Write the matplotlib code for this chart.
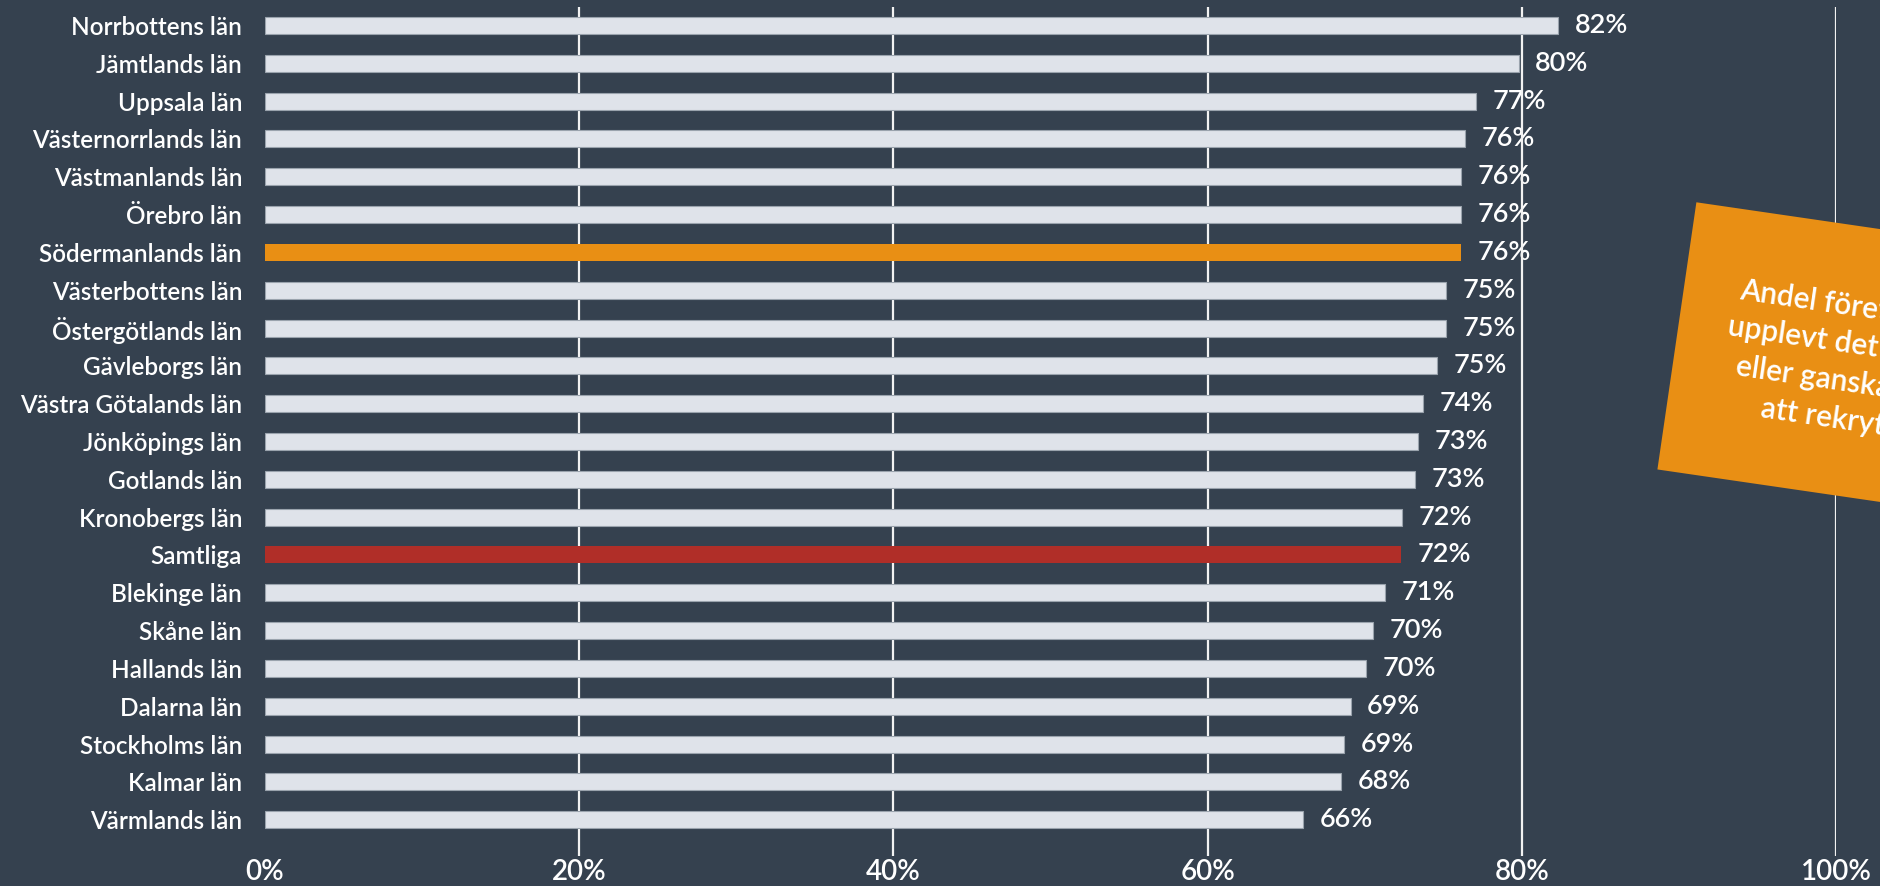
import matplotlib
matplotlib.use("Agg")
import matplotlib.pyplot as plt
from matplotlib.patches import Rectangle
import matplotlib.transforms as mtransforms

# ---- data ----
categories = ["Norrbottens län", "Jämtlands län", "Uppsala län", "Västernorrlands län",
              "Västmanlands län", "Örebro län", "Södermanlands län", "Västerbottens län",
              "Östergötlands län", "Gävleborgs län", "Västra Götalands län", "Jönköpings län",
              "Gotlands län", "Kronobergs län", "Samtliga", "Blekinge län", "Skåne län",
              "Hallands län", "Dalarna län", "Stockholms län", "Kalmar län", "Värmlands län"]
values = [82.3, 79.8, 77.1, 76.4, 76.1, 76.1, 76.1, 75.2, 75.2, 74.6, 73.7, 73.4,
          73.2, 72.4, 72.3, 71.3, 70.5, 70.1, 69.1, 68.7, 68.5, 66.1]
value_labels = ["82%", "80%", "77%", "76%", "76%", "76%", "76%", "75%", "75%", "75%",
                "74%", "73%", "73%", "72%", "72%", "71%", "70%", "70%", "69%", "69%",
                "68%", "66%"]
xticks = [0, 20, 40, 60, 80, 100]
xtick_labels = ["0%", "20%", "40%", "60%", "80%", "100%"]
highlight = {"Södermanlands län": "#e98f14", "Samtliga": "#b02e28"}
note_text = "Andel företag som\nupplevt det mycket\neller ganska svårt\natt rekrytera"

BG = "#35414f"
BAR = "#dfe3ea"
FONT = ["Lato", "DejaVu Sans"]

plt.rcParams["font.family"] = FONT

W, H = 1881, 886
fig = plt.figure(figsize=(W / 100, H / 100), dpi=100, facecolor=BG)
ax = fig.add_axes([265 / W, 1 - 856 / H, 1571 / W, (856 - 7) / H], facecolor=BG)

ypos = list(range(len(categories)))
colors = [highlight.get(c, BAR) for c in categories]
edges = [("none" if c in highlight else "#9aa3ad") for c in categories]
ax.barh(ypos, values, height=0.45, color=colors, edgecolor=edges, linewidth=0.8, zorder=3)

for y, v, lab in zip(ypos, values, value_labels):
    ax.annotate(lab, xy=(v, y), xytext=(12, 0), textcoords="offset points",
                ha="left", va="center", color="white", fontsize=19.5,
                fontweight="semibold", zorder=1)

ax.set_xlim(0, 100)
ax.set_ylim(21.96, -0.49)
ax.set_yticks(ypos)
ax.set_yticklabels(categories)
ax.set_xticks(xticks)
ax.set_xticklabels(xtick_labels)
ax.tick_params(axis="y", length=0, pad=16.5, labelsize=17.5, labelcolor="white")
ax.tick_params(axis="x", length=0, pad=2, labelsize=20, labelcolor="white")
for t in ax.get_yticklabels() + ax.get_xticklabels():
    t.set_fontweight("semibold")

for x in xticks[1:]:
    ax.axvline(x, color="#f2f2f2", linewidth=1.6, zorder=2)

for s in ax.spines.values():
    s.set_visible(False)

# rotated sticky note (partly outside the figure on the right)
angle = -8.3
cx, cy = 1856, H - 362
bw, bh = 362, 270
tr = mtransforms.Affine2D().rotate_deg_around(cx, cy, angle)
rect = Rectangle((cx - bw / 2, cy - bh / 2), bw, bh, facecolor="#e98f14",
                 edgecolor="none", transform=tr + mtransforms.IdentityTransform(), zorder=10)
fig.patches.append(rect)
fig.text((cx - 4) / W, (cy - 2) / H, note_text, ha="center", va="center", rotation=angle,
         rotation_mode="anchor", multialignment="center", color="white",
         fontsize=21.5, fontweight="semibold", linespacing=1.4, zorder=11)

fig.savefig("out.png", dpi=100, facecolor=BG)
